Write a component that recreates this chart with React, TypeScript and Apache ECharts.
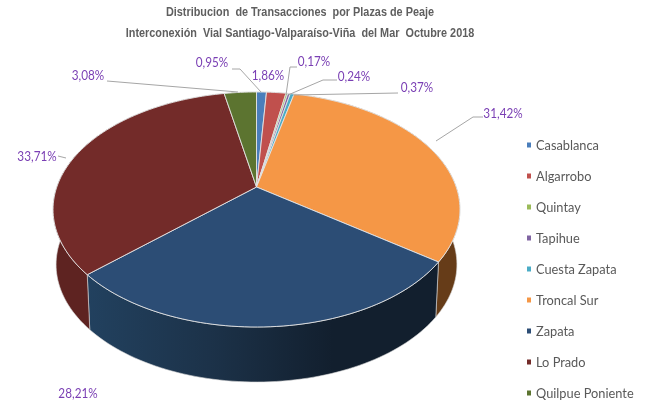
import React, { useEffect, useRef } from "react";
import * as echarts from "echarts";

const TITLE_LINES = [
  "Distribucion  de Transacciones  por Plazas de Peaje",
  "Interconexión  Vial Santiago-Valparaíso-Viña  del Mar  Octubre 2018",
];
const CATEGORIES = ["Casablanca", "Algarrobo", "Quintay", "Tapihue", "Cuesta Zapata", "Troncal Sur", "Zapata", "Lo Prado", "Quilpue Poniente"];
const SHARES = [0.95, 1.86, 0.17, 0.24, 0.37, 31.42, 28.21, 33.71, 3.08];
const COLORS = ["#4a7ebb", "#c0504d", "#9bbb59", "#8064a2", "#4bacc6", "#f59746", "#2c4d75", "#732b29", "#5c7430"];
const WALLS: any[] = [
  "#3a5f8c", "#8f3b39", "#748c43", "#604b79", "#388094", "#663c18",
  [["0", "#22415f"], ["0.35", "#1c3249"], ["0.7", "#121f2e"], ["1", "#121f2e"]],
  "#5e2321", "#46561f",
];

// label centre and leader line, in page pixels
const LABEL_POS = [[212, 62], [268, 75], [314, 61], [354, 76], [417, 87], [503, 113], [78, 393], [37, 156], [88, 75]];
const LEADERS = [
  [[232, 69], [240, 69], [261, 92]],
  [],
  [[297, 67], [290, 67], [286, 95]],
  [[337, 80], [323, 80], [288, 95]],
  [[398, 93], [293, 95]],
  [[483, 117], [473, 117], [436, 141]],
  [],
  [[58, 156], [66, 158]],
  [[107, 81], [238, 92]],
];

// perspective projection of the pie disc
const CX = 256.5, CY = 187, RX = 199.7, RY = 113.2, K = 0.1915, DEPTH = 55, BOTTOM_SCALE = 0.985;
const TOTAL = SHARES.reduce((a, b) => a + b, 0);

const project = (deg: number, r = 1) => {
  const t = (deg * Math.PI) / 180;
  const u = r * Math.sin(t), v = -r * Math.cos(t);
  const s = 1 / (1 - K * v);
  return [CX + RX * u * s, CY + RY * v * s];
};
const range = (i: number) => {
  const before = SHARES.slice(0, i).reduce((a, b) => a + b, 0);
  return [(before / TOTAL) * 360, ((before + SHARES[i]) / TOTAL) * 360];
};
const arc = (a: number, b: number) => {
  const n = Math.max(2, Math.ceil((b - a) / 1.5));
  const pts: number[][] = [];
  for (let j = 0; j <= n; j++) pts.push(project(a + ((b - a) * j) / n));
  return pts;
};

const topSeries = CATEGORIES.map((name, i) => ({
  type: "custom",
  name,
  coordinateSystem: "none",
  z: 3,
  silent: true,
  itemStyle: { color: COLORS[i] },
  data: [SHARES[i]],
  renderItem: () => {
    const [a, b] = range(i);
    return {
      type: "polygon",
      shape: { points: [[CX, CY], ...arc(a, b)] },
      style: { fill: COLORS[i], stroke: "#e4e4e4", lineWidth: 0.9, lineJoin: "round" },
    };
  },
}));

const wallSeries = {
  type: "custom",
  name: "walls",
  coordinateSystem: "none",
  z: 2,
  silent: true,
  data: SHARES,
  renderItem: (params: any) => {
    const i = params.dataIndex;
    const [a, b] = range(i);
    const top = arc(a, b);
    const bottom = top
      .map(([x, y]) => [CX + (x - CX) * BOTTOM_SCALE, y + DEPTH])
      .reverse();
    const w = WALLS[i];
    const fill = Array.isArray(w)
      ? new echarts.graphic.LinearGradient(0, 0, 1, 0, w.map(([o, c]: any) => ({ offset: Number(o), color: c })))
      : w;
    return {
      type: "polygon",
      shape: { points: [...top, ...bottom] },
      style: { fill, stroke: "#d8d8d8", lineWidth: 0.6 },
    };
  },
};

const fmt = (v: number) => v.toFixed(2).replace(".", ",") + "%";

export default function App() {
  const ref = useRef<HTMLDivElement>(null);
  useEffect(() => {
    document.body.style.margin = "0";
    const chart = echarts.init(ref.current!, null, { renderer: "svg" });
    chart.setOption({
      animation: false,
      backgroundColor: "#ffffff",
      legend: {
        data: CATEGORIES,
        orient: "vertical",
        left: 527,
        top: 137,
        icon: "rect",
        itemWidth: 4,
        itemHeight: 5,
        itemGap: 15,
        padding: 0,
        selectedMode: false,
        textStyle: { fontFamily: "Lato", fontSize: 12.8, color: "#595959", lineHeight: 16, height: 16 },
      },
      series: [wallSeries, ...topSeries],
      graphic: [
        ...TITLE_LINES.map((text, i) => ({
          type: "text",
          z: 11,
          silent: true,
          x: 300,
          y: 12 + i * 21,
          scaleX: 0.805,
          style: {
            text,
            align: "center",
            verticalAlign: "middle",
            fontFamily: "'Liberation Sans'",
            fontSize: 13.5,
            fontWeight: "bold",
            fill: "#5f5f5f",
          },
        })),
        ...LEADERS.filter((p) => p.length).map((points) => ({
          type: "polyline",
          z: 10,
          silent: true,
          shape: { points },
          style: { fill: "none", stroke: "#a6a6a6", lineWidth: 1 },
        })),
        ...SHARES.map((v, i) => ({
          type: "text",
          z: 11,
          silent: true,
          x: LABEL_POS[i][0],
          y: LABEL_POS[i][1],
          scaleX: 0.94,
          style: {
            text: fmt(v),
            align: "center",
            verticalAlign: "middle",
            fontFamily: "Lato",
            fontSize: 12.5,
            fill: "#7a3fb4",
          },
        })),
      ],
    });
    return () => chart.dispose();
  }, []);
  return <div ref={ref} style={{ position: "absolute", left: 0, top: 0, width: 646, height: 403, filter: "blur(0.35px)" }} />;
}
